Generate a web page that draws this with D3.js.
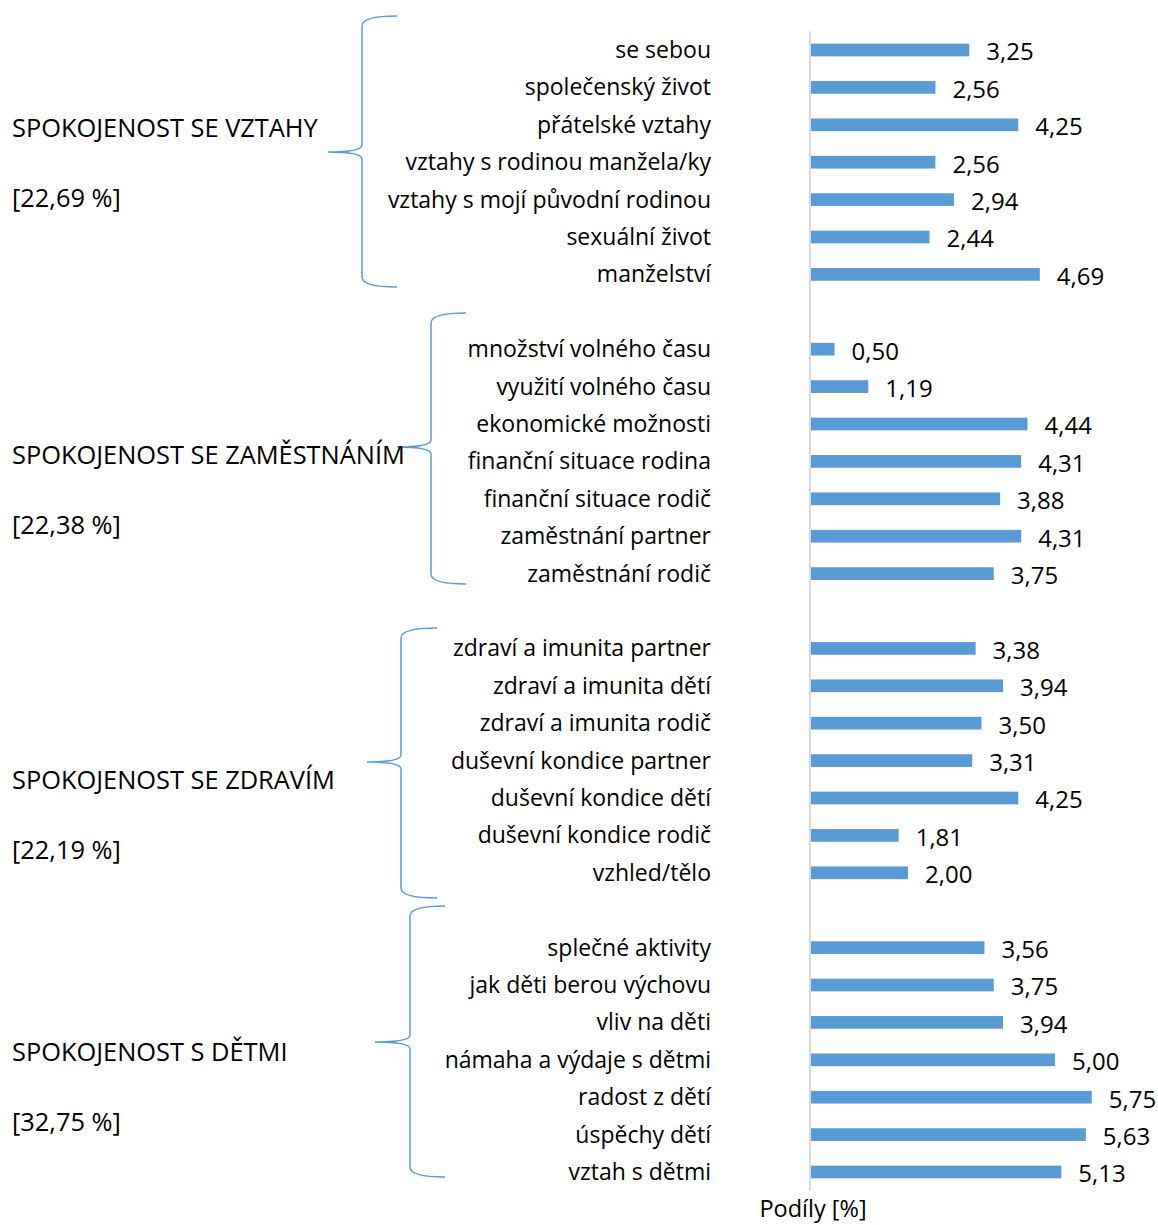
<!DOCTYPE html>
<html lang="cs">

<head>
	<meta charset="utf-8">
	<title>Spokojenost</title>
	<script src="https://d3js.org/d3.v7.min.js"></script>
	<style>
		body { margin: 0; background: #fff; }
		text { font-family: "Open Sans", sans-serif; fill: #000; }
	</style>
</head>

<body>
	<div id="chart"></div>

	<script>
		// group titles and their shares
		const groupNames = ["SPOKOJENOST SE VZTAHY", "SPOKOJENOST SE ZAMĚSTNÁNÍM", "SPOKOJENOST SE ZDRAVÍM", "SPOKOJENOST S DĚTMI"];
		const groupShares = [22.69, 22.38, 22.19, 32.75];

		// categories per group, top to bottom
		const vztahyLabels = ["se sebou", "společenský život", "přátelské vztahy", "vztahy s rodinou manžela/ky", "vztahy s mojí původní rodinou", "sexuální život", "manželství"];
		const vztahyValues = [3.25, 2.56, 4.25, 2.56, 2.94, 2.44, 4.69];

		const zamestnaniLabels = ["množství volného času", "využití volného času", "ekonomické možnosti", "finanční situace rodina", "finanční situace rodič", "zaměstnání partner", "zaměstnání rodič"];
		const zamestnaniValues = [0.50, 1.19, 4.44, 4.31, 3.88, 4.31, 3.75];

		const zdraviLabels = ["zdraví a imunita partner", "zdraví a imunita dětí", "zdraví a imunita rodič", "duševní kondice partner", "duševní kondice dětí", "duševní kondice rodič", "vzhled/tělo"];
		const zdraviValues = [3.38, 3.94, 3.50, 3.31, 4.25, 1.81, 2.00];

		const detiLabels = ["splečné aktivity", "jak děti berou výchovu", "vliv na děti", "námaha a výdaje s dětmi", "radost z dětí", "úspěchy dětí", "vztah s dětmi"];
		const detiValues = [3.56, 3.75, 3.94, 5.00, 5.75, 5.63, 5.13];

		const axisTitle = "Podíly [%]";

		// hand placed braces and group titles (layout only)
		const braceLayout = [
			{ x: 362, top: 16, mid: 152, bottom: 287, tip: 397, point: 328 },
			{ x: 431, top: 313, mid: 447, bottom: 584, tip: 466, point: 397 },
			{ x: 401, top: 628, mid: 762, bottom: 898, tip: 437, point: 367 },
			{ x: 410, top: 906, mid: 1042, bottom: 1177, tip: 445, point: 375 }
		];
		const titleY = [128, 455, 780, 1052];

		const width = 1158, height = 1225;
		const color = "#5B9BD5";
		const fmt = v => v.toFixed(2).replace(".", ",");

		const groupLabels = [vztahyLabels, zamestnaniLabels, zdraviLabels, detiLabels];
		const groupValues = [vztahyValues, zamestnaniValues, zdraviValues, detiValues];

		// flat rows with a blank slot between groups
		const rows = [];
		const keys = [];
		groupLabels.forEach((labels, g) => {
			if (g > 0) keys.push("gap" + g);
			labels.forEach((l, i) => {
				const key = g + "_" + i;
				keys.push(key);
				rows.push({ key: key, label: l, value: groupValues[g][i], group: g });
			});
		});

		const svg = d3.select("#chart").append("svg")
			.attr("width", width)
			.attr("height", height);

		const y = d3.scaleBand()
			.domain(keys)
			.range([31.3, 1190.7])
			.paddingInner(0.66)
			.paddingOuter(0.33);

		const x = d3.scaleLinear()
			.domain([0, 6])
			.range([810, 1104]);

		// bars
		svg.append("g")
			.selectAll("rect")
			.data(rows)
			.join("rect")
			.attr("x", x(0))
			.attr("y", d => y(d.key))
			.attr("width", d => x(d.value) - x(0))
			.attr("height", y.bandwidth())
			.attr("fill", color);

		// vertical axis line
		svg.append("line")
			.attr("x1", x(0)).attr("x2", x(0))
			.attr("y1", y.range()[0]).attr("y2", y.range()[1])
			.attr("stroke", "#d9d9d9")
			.attr("stroke-width", 2);

		// category labels
		svg.append("g")
			.attr("font-size", 23)
			.attr("text-anchor", "end")
			.selectAll("text")
			.data(rows)
			.join("text")
			.attr("x", x(0) - 99)
			.attr("y", d => y(d.key) + y.bandwidth() / 2)
			.attr("dy", "0.35em")
			.text(d => d.label);

		// value labels
		svg.append("g")
			.attr("font-size", 24)
			.selectAll("text")
			.data(rows)
			.join("text")
			.attr("x", d => x(d.value) + 17)
			.attr("y", d => y(d.key) + y.bandwidth() / 2 + 2)
			.attr("dy", "0.35em")
			.text(d => fmt(d.value));

		// axis title
		svg.append("text")
			.attr("x", x(0) + 3)
			.attr("y", 1209)
			.attr("dy", "0.35em")
			.attr("text-anchor", "middle")
			.attr("font-size", 23.5)
			.text(axisTitle);

		// braces
		svg.append("g")
			.attr("fill", "none")
			.attr("stroke", color)
			.attr("stroke-width", 1.5)
			.selectAll("path")
			.data(braceLayout)
			.join("path")
			.attr("d", b => {
				const p = d3.path();
				p.moveTo(b.tip, b.top);
				p.quadraticCurveTo(b.x, b.top, b.x, b.top + 10);
				p.lineTo(b.x, b.mid - 7);
				p.quadraticCurveTo(b.x, b.mid, b.point, b.mid);
				p.quadraticCurveTo(b.x, b.mid, b.x, b.mid + 7);
				p.lineTo(b.x, b.bottom - 10);
				p.quadraticCurveTo(b.x, b.bottom, b.tip, b.bottom);
				return p.toString();
			});

		// group titles and shares
		const titles = svg.append("g").attr("font-size", 25.4);
		groupNames.forEach((name, g) => {
			titles.append("text")
				.attr("x", 12)
				.attr("y", titleY[g])
				.attr("dy", "0.35em")
				.text(name);
			titles.append("text")
				.attr("x", 12)
				.attr("y", titleY[g] + 70)
				.attr("dy", "0.35em")
				.text("[" + fmt(groupShares[g]) + " %]");
		});
	</script>
</body>

</html>
